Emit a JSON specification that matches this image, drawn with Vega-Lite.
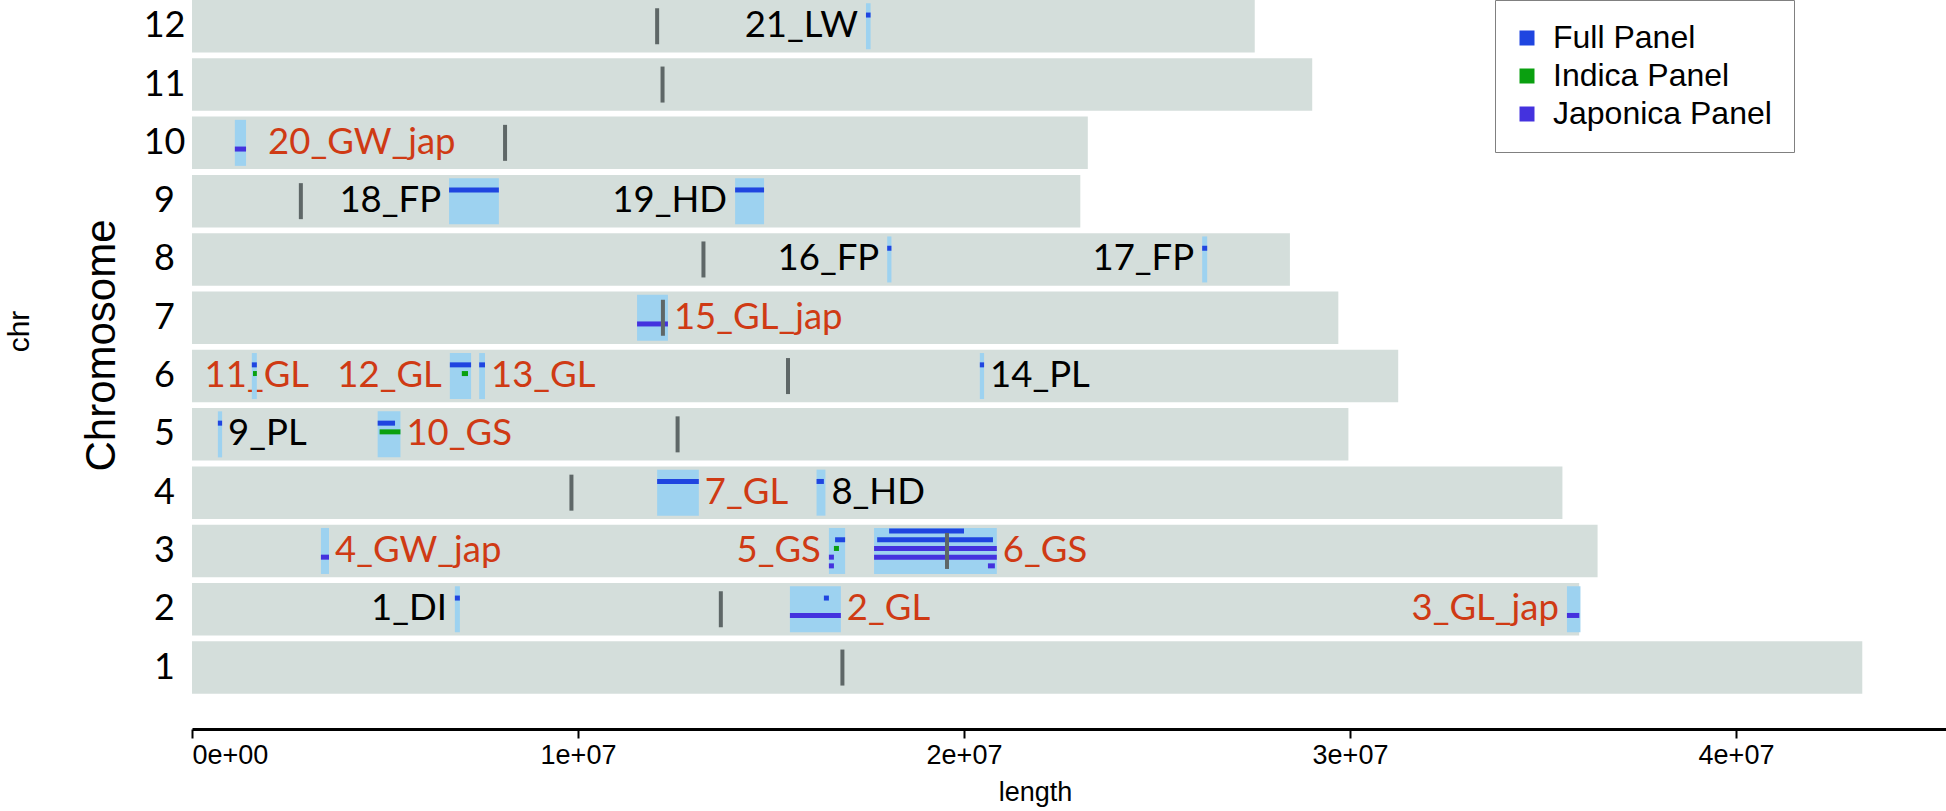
{
  "$schema": "https://vega.github.io/schema/vega-lite/v6.json",
  "width": 1754,
  "height": 729,
  "autosize": {"type": "none"},
  "padding": {"left": 192, "top": 0, "right": 0, "bottom": 82},
  "background": "white",
  "title": {"text": "chr", "orient": "left", "anchor": "middle", "fontSize": 30, "font": "Liberation Sans", "fontWeight": "normal", "color": "black", "offset": 45, "dx": 33},
  "config": {"view": {"stroke": null}, "axis": {"grid": false}},
  "datasets": {
    "chroms": [
      {"chr": 1, "length": 43270923, "centromere": 16850000},
      {"chr": 2, "length": 35937250, "centromere": 13700000},
      {"chr": 3, "length": 36413819, "centromere": 19560000},
      {"chr": 4, "length": 35502694, "centromere": 9830000},
      {"chr": 5, "length": 29958434, "centromere": 12580000},
      {"chr": 6, "length": 31248787, "centromere": 15440000},
      {"chr": 7, "length": 29697621, "centromere": 12200000},
      {"chr": 8, "length": 28443022, "centromere": 13250000},
      {"chr": 9, "length": 23012720, "centromere": 2820000},
      {"chr": 10, "length": 23207287, "centromere": 8110000},
      {"chr": 11, "length": 29021106, "centromere": 12190000},
      {"chr": 12, "length": 27531856, "centromere": 12050000}
    ],
    "qtl": [
      {"id": "1_DI", "chr": 2, "start": 6810000, "end": 6940000, "trait": "DI"},
      {"id": "2_GL", "chr": 2, "start": 15490000, "end": 16810000, "trait": "GL"},
      {"id": "3_GL_jap", "chr": 2, "start": 35620000, "end": 35970000, "trait": "GL"},
      {"id": "4_GW_jap", "chr": 3, "start": 3340000, "end": 3550000, "trait": "GW"},
      {"id": "5_GS", "chr": 3, "start": 16500000, "end": 16920000, "trait": "GS"},
      {"id": "6_GS", "chr": 3, "start": 17670000, "end": 20850000, "trait": "GS"},
      {"id": "7_GL", "chr": 4, "start": 12050000, "end": 13130000, "trait": "GL"},
      {"id": "8_HD", "chr": 4, "start": 16180000, "end": 16410000, "trait": "HD"},
      {"id": "9_PL", "chr": 5, "start": 670000, "end": 780000, "trait": "PL"},
      {"id": "10_GS", "chr": 5, "start": 4810000, "end": 5400000, "trait": "GS"},
      {"id": "11_GL", "chr": 6, "start": 1550000, "end": 1680000, "trait": "GL"},
      {"id": "12_GL", "chr": 6, "start": 6680000, "end": 7230000, "trait": "GL"},
      {"id": "13_GL", "chr": 6, "start": 7440000, "end": 7590000, "trait": "GL"},
      {"id": "14_PL", "chr": 6, "start": 20410000, "end": 20520000, "trait": "PL"},
      {"id": "15_GL_jap", "chr": 7, "start": 11530000, "end": 12330000, "trait": "GL"},
      {"id": "16_FP", "chr": 8, "start": 18010000, "end": 18120000, "trait": "FP"},
      {"id": "17_FP", "chr": 8, "start": 26170000, "end": 26300000, "trait": "FP"},
      {"id": "18_FP", "chr": 9, "start": 6660000, "end": 7950000, "trait": "FP"},
      {"id": "19_HD", "chr": 9, "start": 14070000, "end": 14820000, "trait": "HD"},
      {"id": "20_GW_jap", "chr": 10, "start": 1110000, "end": 1400000, "trait": "GW"},
      {"id": "21_LW", "chr": 12, "start": 17460000, "end": 17580000, "trait": "LW"}
    ],
    "hits": [
      {"qtl": "1_DI", "chr": 2, "start": 6810000, "end": 6940000, "panel": "Full Panel", "row": -1},
      {"qtl": "2_GL", "chr": 2, "start": 15490000, "end": 16810000, "panel": "Japonica Panel", "row": 1},
      {"qtl": "2_GL", "chr": 2, "start": 16370000, "end": 16500000, "panel": "Full Panel", "row": -1},
      {"qtl": "3_GL_jap", "chr": 2, "start": 35620000, "end": 35940000, "panel": "Japonica Panel", "row": 1},
      {"qtl": "4_GW_jap", "chr": 3, "start": 3340000, "end": 3550000, "panel": "Japonica Panel", "row": 1},
      {"qtl": "5_GS", "chr": 3, "start": 16660000, "end": 16920000, "panel": "Full Panel", "row": -1},
      {"qtl": "5_GS", "chr": 3, "start": 16630000, "end": 16760000, "panel": "Indica Panel", "row": 0},
      {"qtl": "5_GS", "chr": 3, "start": 16500000, "end": 16630000, "panel": "Japonica Panel", "row": 1},
      {"qtl": "5_GS", "chr": 3, "start": 16500000, "end": 16630000, "panel": "Japonica Panel", "row": 2},
      {"qtl": "6_GS", "chr": 3, "start": 18060000, "end": 20000000, "panel": "Full Panel", "row": -2},
      {"qtl": "6_GS", "chr": 3, "start": 17750000, "end": 20750000, "panel": "Full Panel", "row": -1},
      {"qtl": "6_GS", "chr": 3, "start": 17670000, "end": 20850000, "panel": "Japonica Panel", "row": 0},
      {"qtl": "6_GS", "chr": 3, "start": 17670000, "end": 20850000, "panel": "Japonica Panel", "row": 1},
      {"qtl": "6_GS", "chr": 3, "start": 20620000, "end": 20800000, "panel": "Japonica Panel", "row": 2},
      {"qtl": "7_GL", "chr": 4, "start": 12050000, "end": 13130000, "panel": "Full Panel", "row": -1},
      {"qtl": "8_HD", "chr": 4, "start": 16180000, "end": 16370000, "panel": "Full Panel", "row": -1},
      {"qtl": "9_PL", "chr": 5, "start": 670000, "end": 780000, "panel": "Full Panel", "row": -1},
      {"qtl": "10_GS", "chr": 5, "start": 4810000, "end": 5260000, "panel": "Full Panel", "row": -1},
      {"qtl": "10_GS", "chr": 5, "start": 4860000, "end": 5400000, "panel": "Indica Panel", "row": 0},
      {"qtl": "11_GL", "chr": 6, "start": 1550000, "end": 1680000, "panel": "Full Panel", "row": -1},
      {"qtl": "11_GL", "chr": 6, "start": 1580000, "end": 1680000, "panel": "Indica Panel", "row": 0},
      {"qtl": "12_GL", "chr": 6, "start": 6680000, "end": 7230000, "panel": "Full Panel", "row": -1},
      {"qtl": "12_GL", "chr": 6, "start": 6990000, "end": 7150000, "panel": "Indica Panel", "row": 0},
      {"qtl": "13_GL", "chr": 6, "start": 7440000, "end": 7590000, "panel": "Full Panel", "row": -1},
      {"qtl": "14_PL", "chr": 6, "start": 20410000, "end": 20520000, "panel": "Full Panel", "row": -1},
      {"qtl": "15_GL_jap", "chr": 7, "start": 11530000, "end": 12330000, "panel": "Japonica Panel", "row": 1},
      {"qtl": "16_FP", "chr": 8, "start": 18010000, "end": 18120000, "panel": "Full Panel", "row": -1},
      {"qtl": "17_FP", "chr": 8, "start": 26170000, "end": 26300000, "panel": "Full Panel", "row": -1},
      {"qtl": "18_FP", "chr": 9, "start": 6660000, "end": 7950000, "panel": "Full Panel", "row": -1},
      {"qtl": "19_HD", "chr": 9, "start": 14070000, "end": 14820000, "panel": "Full Panel", "row": -1},
      {"qtl": "20_GW_jap", "chr": 10, "start": 1110000, "end": 1400000, "panel": "Japonica Panel", "row": 1},
      {"qtl": "21_LW", "chr": 12, "start": 17460000, "end": 17580000, "panel": "Full Panel", "row": -1}
    ]
  },
  "layer": [
    {
      "data": {"name": "chroms"},
      "mark": {"type": "bar", "orient": "horizontal", "height": 52.5, "color": "#d4dedb"},
      "encoding": {
        "x": {
          "field": "length", "type": "quantitative", "title": "length",
          "scale": {"domain": [0, 45440000], "nice": false},
          "axis": {
            "values": [0, 10000000, 20000000, 30000000, 40000000],
            "labelExpr": "datum.value == 0 ? '0e+00' : format(datum.value / 10000000, 'd') + 'e+07'",
            "domainColor": "black", "domainWidth": 3,
            "tickColor": "black", "tickWidth": 2, "tickSize": 9,
            "labelFont": "Liberation Sans", "labelFontSize": 27, "labelColor": "black", "labelPadding": 4,
            "titleFont": "Liberation Sans", "titleFontSize": 27, "titleFontWeight": "normal", "titleColor": "black",
            "titleX": 843, "titleY": 71, "titleBaseline": "alphabetic", "titleAlign": "center"
          }
        },
        "y": {
          "field": "chr", "type": "ordinal", "title": "Chromosome",
          "scale": {"domain": [12, 11, 10, 9, 8, 7, 6, 5, 4, 3, 2, 1], "paddingInner": 0.0995, "paddingOuter": 0.3018, "align": 0},
          "axis": {
            "domain": false, "ticks": false, "tickSize": 0, "labelPadding": 28,
            "labelAlign": "center", "labelBaseline": "middle",
            "labelFont": "Lato", "labelFontSize": 36, "labelColor": "black",
            "titleFont": "Liberation Sans", "titleFontSize": 42, "titleFontWeight": "normal", "titleColor": "black",
            "titleAngle": 270, "titleX": -78, "titleY": 345, "titleBaseline": "alphabetic", "titleAlign": "center"
          }
        }
      }
    },
    {
      "data": {"name": "qtl"},
      "transform": [{"filter": {"field": "id", "oneOf": ["2_GL", "4_GW_jap", "6_GS", "7_GL", "8_HD", "9_PL", "10_GS", "13_GL", "14_PL", "15_GL_jap"]}}],
      "mark": {"type": "text", "align": "left", "baseline": "middle", "dx": 6, "font": "Lato", "fontSize": 36.5},
      "encoding": {
        "x": {"field": "end", "type": "quantitative", "title": "length"},
        "y": {"field": "chr", "type": "ordinal", "title": "Chromosome"},
        "text": {"field": "id"},
        "color": {"field": "trait", "type": "nominal", "legend": null, "scale": {"domain": ["GL", "GW", "GS", "DI", "HD", "PL", "FP", "LW"], "range": ["#cf3a14", "#cf3a14", "#cf3a14", "black", "black", "black", "black", "black"]}}
      }
    },
    {
      "data": {"name": "qtl"},
      "transform": [{"filter": {"field": "id", "oneOf": ["20_GW_jap"]}}],
      "mark": {"type": "text", "align": "left", "baseline": "middle", "dx": 22, "font": "Lato", "fontSize": 36.5},
      "encoding": {
        "x": {"field": "end", "type": "quantitative", "title": "length"},
        "y": {"field": "chr", "type": "ordinal", "title": "Chromosome"},
        "text": {"field": "id"},
        "color": {"field": "trait", "type": "nominal", "legend": null, "scale": {"domain": ["GL", "GW", "GS", "DI", "HD", "PL", "FP", "LW"], "range": ["#cf3a14", "#cf3a14", "#cf3a14", "black", "black", "black", "black", "black"]}}
      }
    },
    {
      "data": {"name": "qtl"},
      "transform": [{"filter": {"field": "id", "oneOf": ["1_DI", "3_GL_jap", "5_GS", "12_GL", "16_FP", "17_FP", "18_FP", "19_HD", "21_LW"]}}],
      "mark": {"type": "text", "align": "right", "baseline": "middle", "dx": -8, "font": "Lato", "fontSize": 36.5},
      "encoding": {
        "x": {"field": "start", "type": "quantitative", "title": "length"},
        "y": {"field": "chr", "type": "ordinal", "title": "Chromosome"},
        "text": {"field": "id"},
        "color": {"field": "trait", "type": "nominal", "legend": null, "scale": {"domain": ["GL", "GW", "GS", "DI", "HD", "PL", "FP", "LW"], "range": ["#cf3a14", "#cf3a14", "#cf3a14", "black", "black", "black", "black", "black"]}}
      }
    },
    {
      "data": {"name": "qtl"},
      "transform": [{"filter": {"field": "id", "oneOf": ["11_GL"]}}],
      "mark": {"type": "text", "align": "center", "baseline": "middle", "dx": 0, "font": "Lato", "fontSize": 36.5},
      "encoding": {
        "x": {"field": "end", "type": "quantitative", "title": "length"},
        "y": {"field": "chr", "type": "ordinal", "title": "Chromosome"},
        "text": {"field": "id"},
        "color": {"field": "trait", "type": "nominal", "legend": null, "scale": {"domain": ["GL", "GW", "GS", "DI", "HD", "PL", "FP", "LW"], "range": ["#cf3a14", "#cf3a14", "#cf3a14", "black", "black", "black", "black", "black"]}}
      }
    },
    {
      "data": {"name": "qtl"},
      "mark": {"type": "bar", "orient": "horizontal", "height": 46, "color": "#9dd2f0"},
      "encoding": {
        "x": {"field": "start", "type": "quantitative", "title": "length"},
        "x2": {"field": "end"},
        "y": {"field": "chr", "type": "ordinal", "title": "Chromosome"}
      }
    },
    {
      "data": {"name": "hits"},
      "mark": {"type": "bar", "orient": "horizontal", "height": 5},
      "encoding": {
        "x": {"field": "start", "type": "quantitative", "title": "length"},
        "x2": {"field": "end"},
        "y": {"field": "chr", "type": "ordinal", "title": "Chromosome"},
        "yOffset": {"field": "row", "type": "quantitative", "scale": {"domain": [-2, 2], "range": [6.35, 41.15]}},
        "color": {
          "field": "panel", "type": "nominal",
          "scale": {"domain": ["Full Panel", "Indica Panel", "Japonica Panel"], "range": ["#1f45e0", "#0aa010", "#4432de"]},
          "legend": {
            "orient": "none", "legendX": 1303, "legendY": 0, "title": null,
            "symbolType": "square", "symbolSize": 225, "symbolStrokeWidth": 0, "symbolOpacity": 1, "symbolOffset": -6,
            "labelFont": "Liberation Sans", "labelFontSize": 32, "labelColor": "black", "labelLimit": 500,
            "padding": 22, "rowPadding": 6, "labelOffset": 10,
            "fillColor": "white", "strokeColor": "#808080"
          }
        }
      }
    },
    {
      "data": {"name": "chroms"},
      "mark": {"type": "tick", "orient": "vertical", "size": 36, "thickness": 4, "color": "#5e6767", "opacity": 1},
      "encoding": {
        "x": {"field": "centromere", "type": "quantitative", "title": "length"},
        "y": {"field": "chr", "type": "ordinal", "title": "Chromosome"}
      }
    }
  ],
  "resolve": {"scale": {"color": "independent"}}
}
